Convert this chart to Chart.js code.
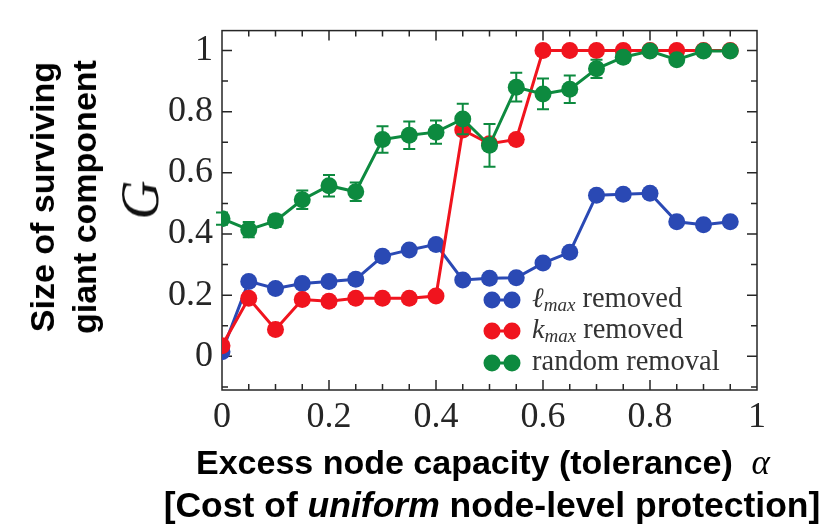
<!DOCTYPE html>
<html>
<head>
<meta charset="utf-8">
<script src="https://cdn.jsdelivr.net/npm/chart.js@4.4.0/dist/chart.umd.min.js"></script>
<style>
  html, body { margin: 0; padding: 0; background: #fff; }
  #wrap { position: relative; width: 828px; height: 527px; }
  #chart { position: absolute; left: 0; top: 0; }
  .ytitle {
    position: absolute; left: 63px; top: 197px;
    transform: translate(-50%, -50%) rotate(-90deg);
    font: bold 34px "Liberation Sans", Arial, sans-serif;
    line-height: 42px; text-align: center; white-space: nowrap; color: #000;
  }
  .gsym {
    position: absolute; left: 140px; top: 200px;
    transform: translate(-50%, -50%) rotate(-90deg);
    font: italic 54px "Liberation Serif", "DejaVu Serif", serif; color: #111;
  }
  .xline {
    position: absolute; transform: translate(-50%, -50%);
    font: bold 34px "Liberation Sans", Arial, sans-serif;
    white-space: nowrap; color: #000;
  }
  .xline .al { font: italic 35px "Liberation Serif", "DejaVu Serif", serif; }
  #x1 { left: 483px; top: 463px; }
  #x2 { left: 492px; top: 505px; font-size: 35.5px; }
</style>
</head>
<body>
<div id="wrap">
  <canvas id="chart" width="828" height="527"></canvas>
  <div class="ytitle">Size of surviving<br>giant component</div>
  <div class="gsym">G</div>
  <div class="xline" id="x1">Excess node capacity (tolerance)&nbsp; <span class="al">α</span></div>
  <div class="xline" id="x2">[Cost of <i>uniform</i> node-level protection]</div>
</div>
<script>
// tolerance values (x) and giant component size per removal strategy
const alpha = [0, 0.05, 0.1, 0.15, 0.2, 0.25, 0.3, 0.35, 0.4, 0.45, 0.5, 0.55, 0.6, 0.65, 0.7, 0.75, 0.8, 0.85, 0.9, 0.95];
const lmaxRemoved   = [0.015, 0.245, 0.222, 0.238, 0.245, 0.252, 0.327, 0.348, 0.366, 0.25, 0.255, 0.257, 0.305, 0.34, 0.527, 0.53, 0.533, 0.44, 0.43, 0.44];
const kmaxRemoved   = [0.035, 0.19, 0.088, 0.186, 0.18, 0.19, 0.19, 0.19, 0.197, 0.74, 0.695, 0.709, 1, 1, 1, 1, 1, 1, 1, 1];
const randomRemoval = [0.45, 0.414, 0.443, 0.512, 0.558, 0.538, 0.709, 0.723, 0.733, 0.776, 0.69, 0.88, 0.858, 0.873, 0.94, 0.978, 0.998, 0.97, 0.998, 0.998];
const randomErr     = [0.02, 0.025, 0.02, 0.03, 0.035, 0.03, 0.043, 0.045, 0.038, 0.05, 0.07, 0.047, 0.05, 0.045, 0.03, 0.012, 0.008, 0.01, 0.006, 0.006];

const xTickValues = [0, 0.2, 0.4, 0.6, 0.8, 1];
const yTickValues = [0, 0.2, 0.4, 0.6, 0.8, 1];
const tickLabel = v => (v === 0 ? '0' : v === 1 ? '1' : v.toFixed(1));

const BLUE = '#2a49b4', RED = '#f0141e', GREEN = '#0d8a3f';
const INK = '#262626';

const legendItems = [
  { color: BLUE,  sym: 'ℓ', sub: 'max', text: ' removed' },
  { color: RED,   sym: 'k', sub: 'max', text: ' removed' },
  { color: GREEN, sym: '',  sub: '',    text: 'random removal' },
];

const pts = ys => alpha.map((x, i) => ({ x, y: ys[i] }));
const series = (data, color, order) => ({
  data: pts(data), order,
  borderColor: color, backgroundColor: color,
  borderWidth: 3, pointRadius: 8.5, pointBorderWidth: 0, pointHoverRadius: 8.5,
  showLine: true, tension: 0,
});

// frame with inward ticks on all four sides
const frame = {
  id: 'frame',
  beforeDatasetsDraw(chart) {
    const { ctx, chartArea: a, scales: { x, y } } = chart;
    ctx.save();
    ctx.strokeStyle = INK;
    ctx.lineWidth = 1.5;
    ctx.strokeRect(a.left, a.top, a.right - a.left, a.bottom - a.top);
    for (let i = 1; i < 20; i++) {
      const px = x.getPixelForValue(i / 20);
      const len = i % 4 === 0 ? 10 : 6;
      ctx.beginPath();
      ctx.moveTo(px, a.bottom); ctx.lineTo(px, a.bottom - len);
      ctx.moveTo(px, a.top); ctx.lineTo(px, a.top + len);
      ctx.stroke();
    }
    for (let i = -1; i <= 10; i++) {
      const py = y.getPixelForValue(i / 10);
      const len = i % 2 === 0 ? 10 : 6;
      ctx.beginPath();
      ctx.moveTo(a.left, py); ctx.lineTo(a.left + len, py);
      ctx.moveTo(a.right, py); ctx.lineTo(a.right - len, py);
      ctx.stroke();
    }
    ctx.restore();
  }
};

// error bars under the random-removal markers
const errorBars = {
  id: 'errorBars',
  beforeDatasetDraw(chart, args) {
    if (args.index !== 2) return;
    const { ctx, scales: { x, y } } = chart;
    ctx.save();
    ctx.strokeStyle = GREEN;
    ctx.lineWidth = 2;
    alpha.forEach((a, i) => {
      const px = x.getPixelForValue(a);
      const top = y.getPixelForValue(randomRemoval[i] + randomErr[i]);
      const bot = y.getPixelForValue(randomRemoval[i] - randomErr[i]);
      ctx.beginPath();
      ctx.moveTo(px, top); ctx.lineTo(px, bot);
      ctx.moveTo(px - 6, top); ctx.lineTo(px + 6, top);
      ctx.moveTo(px - 6, bot); ctx.lineTo(px + 6, bot);
      ctx.stroke();
    });
    ctx.restore();
  }
};

const legend = {
  id: 'sideLegend',
  afterDraw(chart) {
    const { ctx, chartArea: a } = chart;
    const x0 = a.right - 265, rows = [a.bottom - 90, a.bottom - 59, a.bottom - 27];
    ctx.save();
    legendItems.forEach((it, i) => {
      const yy = rows[i];
      ctx.strokeStyle = it.color; ctx.fillStyle = it.color; ctx.lineWidth = 3;
      ctx.beginPath(); ctx.moveTo(x0, yy); ctx.lineTo(x0 + 20, yy); ctx.stroke();
      [x0, x0 + 20].forEach(cx => { ctx.beginPath(); ctx.arc(cx, yy, 8.5, 0, Math.PI * 2); ctx.fill(); });
      ctx.fillStyle = '#333';
      ctx.textBaseline = 'middle';
      let tx = x0 + 40;
      if (it.sym) {
        ctx.font = 'italic 28px "Liberation Serif", "DejaVu Serif", serif';
        ctx.fillText(it.sym, tx, yy);
        tx += ctx.measureText(it.sym).width;
        ctx.font = 'italic 19px "Liberation Serif", "DejaVu Serif", serif';
        ctx.fillText(it.sub, tx, yy + 6);
        tx += ctx.measureText(it.sub).width;
      }
      ctx.font = '28.5px "Liberation Serif", "DejaVu Serif", serif';
      ctx.fillText(it.text, tx, yy);
    });
    ctx.restore();
  }
};

new Chart(document.getElementById('chart'), {
  type: 'scatter',
  data: {
    datasets: [
      series(lmaxRemoved, BLUE, 2),
      series(kmaxRemoved, RED, 1),
      series(randomRemoval, GREEN, 0),
    ]
  },
  options: {
    responsive: false, animation: false,
    layout: { padding: { left: 0, right: 71, top: 12, bottom: 0 } },
    plugins: { legend: { display: false }, tooltip: { enabled: false } },
    scales: {
      x: {
        type: 'linear', min: 0, max: 1,
        grid: { display: false, drawTicks: false }, border: { display: false },
        afterBuildTicks: s => { s.ticks = xTickValues.map(value => ({ value })); },
        afterFit: s => { s.height = 137; },
        ticks: { callback: tickLabel, padding: 6, color: INK, maxRotation: 0,
                 font: { family: '"Liberation Serif", "DejaVu Serif", serif', size: 36 } }
      },
      y: {
        type: 'linear', min: -0.11, max: 1.065,
        grid: { display: false, drawTicks: false }, border: { display: false },
        afterBuildTicks: s => { s.ticks = yTickValues.map(value => ({ value })); },
        afterFit: s => { s.width = 222; },
        ticks: { callback: tickLabel, padding: 9, color: INK,
                 font: { family: '"Liberation Serif", "DejaVu Serif", serif', size: 36 } }
      }
    }
  },
  plugins: [frame, errorBars, legend]
});
</script>
</body>
</html>
